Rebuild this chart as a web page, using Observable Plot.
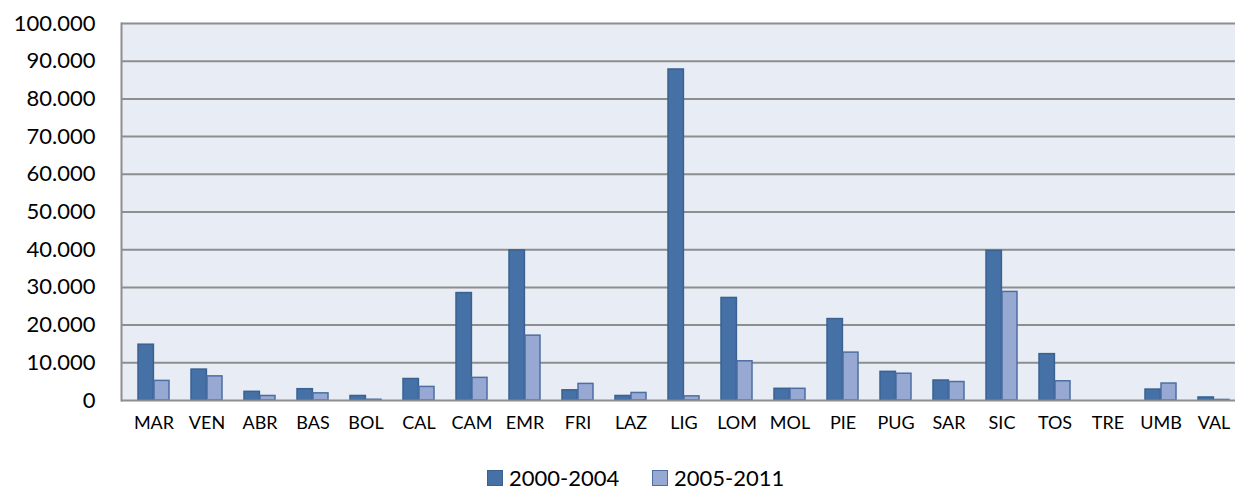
<!DOCTYPE html>
<html>
<head>
<meta charset="utf-8">
<script src="https://cdn.jsdelivr.net/npm/d3@7"></script>
<script src="https://cdn.jsdelivr.net/npm/@observablehq/plot@0.6"></script>
<style>
  html, body { margin: 0; padding: 0; background: #fff; overflow: hidden; width: 1235px; height: 490px; }
  #chart { width: 1235px; height: 442px; }
  #legend { position: relative; height: 48px; font-family: Lato, "Open Sans", sans-serif; font-size: 22px; color: #000; }
  .item { position: absolute; top: 25px; display: flex; align-items: center; line-height: 1; }
  .sw { width: 14px; height: 14px; margin-right: 6px; border: 1px solid; }
</style>
</head>
<body>
<div id="chart"></div>
<div id="legend"></div>
<script>
const categories = ["MAR","VEN","ABR","BAS","BOL","CAL","CAM","EMR","FRI","LAZ","LIG","LOM","MOL","PIE","PUG","SAR","SIC","TOS","TRE","UMB","VAL"];
const series = ["2000-2004", "2005-2011"];
const values2000_2004 = [14800, 8200, 2300, 3000, 1200, 5700, 28500, 39800, 2700, 1200, 87800, 27200, 3100, 21600, 7600, 5300, 39700, 12300, 0, 2900, 800];
const values2005_2011 = [5200, 6400, 1200, 1900, 200, 3600, 6000, 17200, 4400, 2000, 1100, 10400, 3100, 12700, 7100, 4900, 28800, 5100, 0, 4500, 150];
const yTicks = [0, 10000, 20000, 30000, 40000, 50000, 60000, 70000, 80000, 90000, 100000];

const fills = {"2000-2004": "#4571A6", "2005-2011": "#97A9D3"};
const strokes = {"2000-2004": "#3A6190", "2005-2011": "#4B6FA2"};

const data = [];
categories.forEach((c, i) => {
  data.push({cat: c, series: series[0], value: values2000_2004[i]});
  data.push({cat: c, series: series[1], value: values2005_2011[i]});
});

const fmt = d3.formatLocale({decimal: ",", thousands: ".", grouping: [3], currency: ["", "€"]}).format(",");
const font = "Lato, 'Open Sans', sans-serif";

// plot area extends slightly past the right edge of the picture (cropped, as in the reference)
const xRange = [121, 1246];

const chart = Plot.plot({
  width: 1235,
  height: 442,
  marginLeft: 121,
  marginRight: 0,
  marginTop: 23,
  marginBottom: 42,
  style: {fontFamily: font, background: "#fff", maxWidth: "none"},
  x: {domain: categories, range: xRange, padding: 0, label: null},
  y: {domain: [0, 100000], label: null},
  marks: [
    Plot.frame({fill: "#E8ECF4", stroke: null}),
    Plot.ruleY(yTicks.slice(1), {stroke: "#8E8E8E", strokeWidth: 2}),
    Plot.barY(data.filter(d => d.series === series[0]), {
      x: "cat", y: "value", fill: fills[series[0]], stroke: strokes[series[0]], strokeWidth: 1.5,
      insetLeft: 11, insetRight: 26.6
    }),
    Plot.barY(data.filter(d => d.series === series[1]), {
      x: "cat", y: "value", fill: fills[series[1]], stroke: strokes[series[1]], strokeWidth: 1.5,
      insetLeft: 27, insetRight: 11
    }),
    Plot.ruleY([0], {stroke: "#8E8E8E", strokeWidth: 2}),
    Plot.frame({anchor: "left", stroke: "#8E8E8E", strokeWidth: 2}),
    Plot.axisY({ticks: yTicks, tickFormat: fmt, tickSize: 0, tickPadding: 26, fontSize: 22, fill: "#000", label: null}),
    Plot.axisX({tickSize: 0, tickPadding: 16, fontSize: 18, fill: "#000", label: null})
  ]
});
document.getElementById("chart").appendChild(chart);

const legend = document.getElementById("legend");
const positions = [487, 652];
series.forEach((s, i) => {
  const item = document.createElement("div");
  item.className = "item";
  item.style.left = positions[i] + "px";
  const sw = document.createElement("span");
  sw.className = "sw";
  sw.style.background = fills[s];
  sw.style.borderColor = strokes[s];
  const t = document.createElement("span");
  t.textContent = s;
  item.appendChild(sw);
  item.appendChild(t);
  legend.appendChild(item);
});
</script>
</body>
</html>
